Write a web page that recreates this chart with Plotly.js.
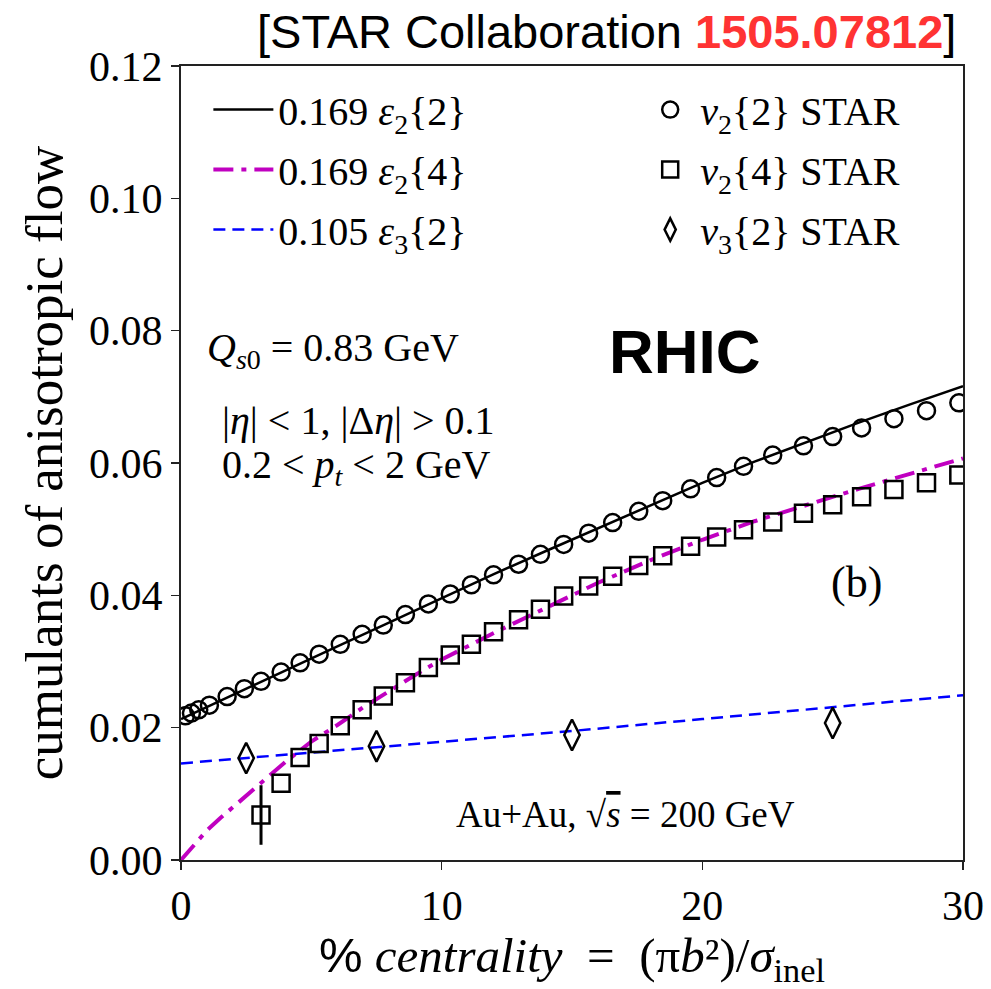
<!DOCTYPE html>
<html>
<head>
<meta charset="utf-8">
<script src="https://cdn.plot.ly/plotly-3.0.1.min.js"></script>
<style>html,body{margin:0;padding:0;background:#fff;}</style>
</head>
<body>
<div id="chart" style="width:991px;height:989px;"></div>
<script>
// STAR data: v2{2}
const cent22 = [0.17,0.40,0.68,1.09,1.77,2.43,3.07,3.84,4.57,5.30,6.11,6.95,7.76,8.61,9.49,10.33,11.14,11.99,12.95,13.79,14.68,15.64,16.56,17.56,18.48,19.55,20.55,21.58,22.70,23.88,25.00,26.11,27.35,28.60,29.84];
const v22 = [0.0218,0.0222,0.0227,0.0234,0.0247,0.0259,0.0270,0.0284,0.0298,0.0311,0.0326,0.0341,0.0355,0.0371,0.0387,0.0402,0.0416,0.0431,0.0447,0.0462,0.0477,0.0494,0.0510,0.0527,0.0543,0.0561,0.0578,0.0595,0.0612,0.0626,0.0640,0.0653,0.0667,0.0679,0.0691];
// STAR data: v2{4}
const cent24 = [3.07,3.84,4.57,5.30,6.11,6.95,7.76,8.61,9.49,10.33,11.14,11.99,12.95,13.79,14.68,15.64,16.56,17.56,18.48,19.55,20.55,21.58,22.70,23.88,25.00,26.11,27.35,28.60,29.84];
const v24 = [0.0068,0.0116,0.0155,0.0176,0.0203,0.0227,0.0248,0.0268,0.0291,0.0310,0.0326,0.0345,0.0363,0.0379,0.0399,0.0414,0.0429,0.0445,0.0460,0.0474,0.0488,0.0499,0.0511,0.0524,0.0537,0.0549,0.0560,0.0570,0.0582];
const v24err = [0.0045,0,0,0,0,0,0,0,0,0,0,0,0,0,0,0,0,0,0,0,0,0,0,0,0,0,0,0,0];
// STAR data: v3{2}
const cent32 = [2.5,7.5,15,25];
const v32 = [0.0154,0.0172,0.0189,0.0207];

// Model curves
const thX22 = [0,2,4,6,8,10,12,14,16,18,20,22,24,26,28,30];
const eps22 = [0.0213,0.0250,0.0286,0.0323,0.0359,0.0396,0.0432,0.0467,0.0501,0.0536,0.0570,0.0602,0.0632,0.0661,0.0689,0.0716];
const thX24 = [0,0.5,1,1.5,2,3,4,5,6,7,8,9,10,12,14,16,18,20,22,24,26,28,30];
const eps24 = [0,0.0023,0.0045,0.0063,0.0080,0.0114,0.0148,0.0179,0.0204,0.0231,0.0256,0.0280,0.0303,0.0343,0.0381,0.0419,0.0453,0.0484,0.0512,0.0537,0.0561,0.0584,0.0607];
const thX32 = [0,5,10,15,20,25,30];
const eps32 = [0.0146,0.0162,0.0179,0.0195,0.0213,0.0231,0.0249];

const legendNames = ["0.169 <i>ε</i><sub>2</sub>{2}", "0.169 <i>ε</i><sub>2</sub>{4}", "0.105 <i>ε</i><sub>3</sub>{2}",
                     " <i>v</i><sub>2</sub>{2} STAR", " <i>v</i><sub>2</sub>{4} STAR", " <i>v</i><sub>3</sub>{2} STAR"];

const SERIF = "Liberation Serif, DejaVu Serif, serif";
const SANS = "Liberation Sans, Arial, sans-serif";
const NB = '\u00a0';

const traces = [
  {x: thX22, y: eps22, mode: 'lines', name: legendNames[0], legend: 'legend', legendgroup: 'a',
   line: {color: '#000000', width: 2.5}},
  {x: thX24, y: eps24, mode: 'lines', name: legendNames[1], legend: 'legend', legendgroup: 'b',
   line: {color: '#c000c0', width: 4, dash: '20px,8px,5px,8px'}},
  {x: thX32, y: eps32, mode: 'lines', name: legendNames[2], legend: 'legend', legendgroup: 'c',
   line: {color: '#0000ff', width: 2.5, dash: '12px,7px'}},
  {x: cent22, y: v22, mode: 'markers', name: legendNames[3], legend: 'legend2', legendgroup: 'd',
   marker: {symbol: 'circle-open', size: 17, color: '#000000', line: {width: 2.5, color: '#000000'}}},
  {x: cent24, y: v24, mode: 'markers', name: legendNames[4], legend: 'legend2', legendgroup: 'e',
   marker: {symbol: 'square-open', size: 17, color: '#000000', line: {width: 2.5, color: '#000000'}},
   error_y: {type: 'data', array: v24err, visible: true, color: '#000000', thickness: 3, width: 0}},
  {x: cent32, y: v32, mode: 'markers', name: legendNames[5], legend: 'legend2', legendgroup: 'f',
   marker: {symbol: 'diamond-tall-open', size: 22, color: '#000000', line: {width: 2.5, color: '#000000'}}}
];

const layout = {
  width: 991, height: 989,
  margin: {l: 181, r: 28, t: 66, b: 129},
  paper_bgcolor: '#ffffff', plot_bgcolor: '#ffffff',
  showlegend: true,
  font: {family: SERIF, color: '#000000', size: 38},
  xaxis: {
    range: [0, 30], dtick: 10, tick0: 0,
    showgrid: false, zeroline: false,
    showline: true, linecolor: '#222222', linewidth: 2, mirror: true,
    ticks: 'outside', ticklen: 8, tickwidth: 1.5, tickcolor: '#222222',
    tickfont: {family: SERIF, size: 42, color: '#000000'},
    title: {text: '<span style="font-family:Liberation Sans">%</span>' + NB + '<i>centrality</i>' + NB + NB + '=' + NB + NB + '(π<i>b</i>²)/<i>σ</i><sub>inel</sub>',
            font: {family: SERIF, size: 49, color: '#000000'}, standoff: 22}
  },
  yaxis: {
    range: [0, 0.12], dtick: 0.02, tick0: 0, tickformat: '.2f',
    showgrid: false, zeroline: false,
    showline: true, linecolor: '#222222', linewidth: 2, mirror: true,
    ticks: 'outside', ticklen: 8, tickwidth: 1.5, tickcolor: '#222222',
    tickfont: {family: SERIF, size: 42, color: '#000000'},
    title: {text: 'cumulants of anisotropic flow', font: {family: SERIF, size: 53, color: '#000000'}, standoff: 10}
  },
  legend: {
    x: 0.035, y: 0.986, xanchor: 'left', yanchor: 'top',
    bgcolor: 'rgba(0,0,0,0)', borderwidth: 0,
    font: {family: SERIF, size: 40, color: '#000000'},
    traceorder: 'grouped', tracegroupgap: 5, itemwidth: 60
  },
  legend2: {
    x: 0.6, y: 0.986, xanchor: 'left', yanchor: 'top',
    bgcolor: 'rgba(0,0,0,0)', borderwidth: 0,
    font: {family: SERIF, size: 40, color: '#000000'},
    traceorder: 'grouped', tracegroupgap: 5
  },
  annotations: [
    {xref: 'paper', yref: 'paper', x: 0.9936, y: 1.044, xanchor: 'right', yanchor: 'middle', showarrow: false,
     text: '[STAR Collaboration <b><span style="color:#ff3333">1505.07812</span></b>]',
     font: {family: SANS, size: 47, color: '#000000'}},
    {xref: 'paper', yref: 'paper', x: 0.645, y: 0.64, xanchor: 'center', yanchor: 'middle', showarrow: false,
     text: '<b>RHIC</b>', font: {family: SANS, size: 62, color: '#000000'}},
    {xref: 'paper', yref: 'paper', x: 0.031, y: 0.642, xanchor: 'left', yanchor: 'middle', showarrow: false,
     text: '<i>Q</i><sub><i>s</i>0</sub>' + NB + '=' + NB + '0.83' + NB + 'GeV', font: {family: SERIF, size: 40, color: '#000000'}},
    {xref: 'paper', yref: 'paper', x: 0.05, y: 0.554, xanchor: 'left', yanchor: 'middle', showarrow: false,
     text: '|<i>η</i>|' + NB + '&lt;' + NB + '1,' + NB + '|Δ<i>η</i>|' + NB + '&gt;' + NB + '0.1', font: {family: SERIF, size: 40, color: '#000000'}},
    {xref: 'paper', yref: 'paper', x: 0.05, y: 0.495, xanchor: 'left', yanchor: 'middle', showarrow: false,
     text: '0.2' + NB + '&lt;' + NB + '<i>p</i><sub><i>t</i></sub>' + NB + '&lt;' + NB + '2' + NB + 'GeV', font: {family: SERIF, size: 40, color: '#000000'}},
    {xref: 'paper', yref: 'paper', x: 0.864, y: 0.349, xanchor: 'center', yanchor: 'middle', showarrow: false,
     text: '(b)', font: {family: SERIF, size: 44, color: '#000000'}},
    {xref: 'paper', yref: 'paper', x: 0.568, y: 0.057, xanchor: 'center', yanchor: 'middle', showarrow: false,
     text: 'Au+Au,' + NB + '√<span style="text-decoration:overline"><i>s</i></span>' + NB + '=' + NB + '200' + NB + 'GeV', font: {family: SERIF, size: 37, color: '#000000'}}
  ]
};

Plotly.newPlot('chart', traces, layout, {displayModeBar: false, staticPlot: true});
</script>
</body>
</html>
